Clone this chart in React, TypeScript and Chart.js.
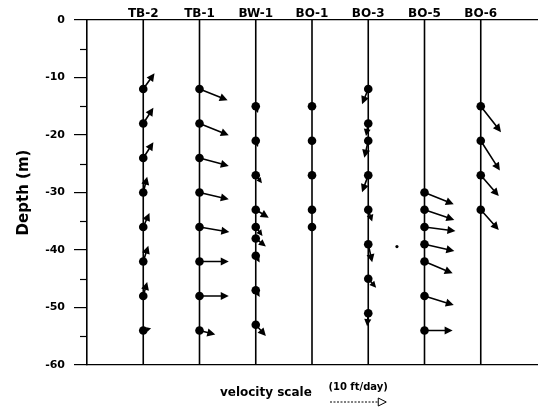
import React, { useEffect, useRef } from "react";
import { Chart, registerables } from "chart.js";
Chart.register(...registerables);

const FONT = "'DejaVu Sans', sans-serif";

// Well names (top axis labels)
const wellNames = ["TB-2", "TB-1", "BW-1", "BO-1", "BO-3", "BO-5", "BO-6"];

// Depth axis
const depthMin = -60;
const depthMax = 0;
const depthStep = 10;
const minorDepthTicks = [-5, -15, -25, -35, -45, -55];

// Measurement depths (m), horizontal (east) and vertical (up) velocity (ft/day)
const tb2Depths = [-12, -18, -24, -30, -36, -42, -48, -54];
const tb2East = [2.0, 1.8, 1.8, 0.7, 1.1, 0.9, 0.7, 1.4];
const tb2Up = [2.8, 2.8, 2.8, 2.8, 2.5, 2.8, 2.5, 0.4];

const tb1Depths = [-12, -18, -24, -30, -36, -42, -48, -54];
const tb1East = [5.0, 5.2, 5.2, 5.2, 5.3, 5.2, 5.2, 2.8];
const tb1Up = [-2.0, -2.1, -1.4, -1.2, -0.9, 0, 0, -0.7];

const bw1Depths = [-15, -21, -27, -33, -36, -38, -41, -47, -53];
const bw1East = [0.4, 0.4, 1.1, 2.3, 1.2, 1.8, 0.7, 0.7, 1.8];
const bw1Up = [-1.2, -1.1, -1.4, -1.4, -1.6, -1.4, -1.2, -1.2, -2.0];

const bo1Depths = [-15, -21, -27, -33, -36];
const bo1East = [0.4, 0.1, 0, 0.5, 0];
const bo1Up = [-0.7, 0, 0, -0.2, 0];

const bo3Depths = [-12, -18, -21, -27, -33, -39, -45, -51];
const bo3East = [-1.1, -0.4, -0.7, -1.1, 0.7, 0.7, 1.4, -0.2];
const bo3Up = [-2.7, -2.2, -3.0, -3.0, -2.1, -3.2, -1.6, -2.3];

const bo5Depths = [-30, -33, -36, -39, -42, -48, -54];
const bo5East = [5.2, 5.3, 5.5, 5.3, 5.0, 5.2, 5.0];
const bo5Up = [-2.1, -1.8, -0.7, -1.2, -2.1, -1.6, 0];

const bo6Depths = [-15, -21, -27, -33];
const bo6East = [3.6, 3.4, 3.2, 3.2];
const bo6Up = [-4.6, -5.3, -3.7, -3.6];

// stray mark in the original figure
const strayX = [5.51];
const strayY = [-39.4];

// velocity scale
const scaleVelocity = 10; // ft/day per x-axis unit (one well spacing)
const scaleLabel = "(10 ft/day)";
const scaleTitle = "velocity scale";

function drawArrow(ctx: CanvasRenderingContext2D, x0: number, y0: number, x1: number, y1: number, filled: boolean, maxHead: number) {
  const dx = x1 - x0;
  const dy = y1 - y0;
  const len = Math.hypot(dx, dy);
  if (len < 1) return;
  const ux = dx / len;
  const uy = dy / len;
  const hl = Math.min(maxHead, len * 0.55);
  const hw = hl * 0.5;
  const bx = x1 - ux * hl;
  const by = y1 - uy * hl;
  ctx.beginPath();
  ctx.moveTo(x0, y0);
  ctx.lineTo(bx, by);
  ctx.stroke();
  ctx.save();
  ctx.setLineDash([]);
  ctx.beginPath();
  ctx.moveTo(x1, y1);
  ctx.lineTo(bx - uy * hw, by + ux * hw);
  ctx.lineTo(bx + uy * hw, by - ux * hw);
  ctx.closePath();
  if (filled) ctx.fill();
  else ctx.stroke();
  ctx.restore();
}

export default function App() {
  const ref = useRef<HTMLCanvasElement>(null);

  useEffect(() => {
    const wells = [
      { depths: tb2Depths, east: tb2East, up: tb2Up },
      { depths: tb1Depths, east: tb1East, up: tb1Up },
      { depths: bw1Depths, east: bw1East, up: bw1Up },
      { depths: bo1Depths, east: bo1East, up: bo1Up },
      { depths: bo3Depths, east: bo3East, up: bo3Up },
      { depths: bo5Depths, east: bo5East, up: bo5Up },
      { depths: bo6Depths, east: bo6East, up: bo6Up },
    ];

    const datasets: any[] = [];
    wells.forEach((_w, i) => {
      datasets.push({
        label: wellNames[i] + " casing",
        data: [
          { x: i + 1, y: depthMax },
          { x: i + 1, y: depthMin },
        ],
        showLine: true,
        borderColor: "#000",
        borderWidth: 1.6,
        pointRadius: 0,
        order: 2,
      });
    });
    wells.forEach((w, i) => {
      datasets.push({
        label: wellNames[i],
        data: w.depths.map((d) => ({ x: i + 1, y: d })),
        showLine: false,
        pointRadius: 4.3,
        pointBackgroundColor: "#000",
        pointBorderColor: "#000",
        pointBorderWidth: 0,
        order: 1,
      });
    });
    datasets.push({
      label: "mark",
      data: strayX.map((x, k) => ({ x, y: strayY[k] })),
      showLine: false,
      pointRadius: 1.6,
      pointBackgroundColor: "#000",
      pointBorderWidth: 0,
      order: 1,
    });

    const vectorPlugin = {
      id: "vectors",
      afterDatasetsDraw(chart: any) {
        const ctx: CanvasRenderingContext2D = chart.ctx;
        const xs = chart.scales.x;
        const ys = chart.scales.y;
        const pxPerVel = (xs.getPixelForValue(1) - xs.getPixelForValue(0)) / scaleVelocity;
        ctx.save();
        ctx.strokeStyle = "#000";
        ctx.fillStyle = "#000";
        ctx.lineWidth = 1.6;
        ctx.lineCap = "round";
        wells.forEach((w, i) => {
          w.depths.forEach((d, k) => {
            const x0 = xs.getPixelForValue(i + 1);
            const y0 = ys.getPixelForValue(d);
            const x1 = x0 + w.east[k] * pxPerVel;
            const y1 = y0 - w.up[k] * pxPerVel;
            drawArrow(ctx, x0, y0, x1, y1, true, 8);
          });
        });
        ctx.restore();
      },
      afterDraw(chart: any) {
        const ctx: CanvasRenderingContext2D = chart.ctx;
        const xs = chart.scales.x;
        const ys = chart.scales.y;
        const area = chart.chartArea;
        const pxPerVel = (xs.getPixelForValue(1) - xs.getPixelForValue(0)) / scaleVelocity;
        ctx.save();
        ctx.strokeStyle = "#000";
        ctx.fillStyle = "#000";
        // minor ticks
        ctx.lineWidth = 1.2;
        minorDepthTicks.forEach((v) => {
          const y = Math.round(ys.getPixelForValue(v)) + 0.5;
          ctx.beginPath();
          ctx.moveTo(area.left - 7, y);
          ctx.lineTo(area.left, y);
          ctx.stroke();
        });
        // velocity scale
        ctx.font = `bold 12px ${FONT}`;
        ctx.textAlign = "center";
        ctx.textBaseline = "middle";
        ctx.fillText(scaleTitle, xs.getPixelForValue(3.18), area.bottom + 28);
        const sx0 = xs.getPixelForValue(4.32);
        const sx1 = sx0 + scaleVelocity * pxPerVel;
        ctx.font = `bold 10px ${FONT}`;
        ctx.fillText(scaleLabel, (sx0 + sx1) / 2, area.bottom + 22);
        ctx.lineWidth = 1;
        ctx.setLineDash([2, 1.5]);
        const sy = area.bottom + 37;
        drawArrow(ctx, sx0, sy, sx1, sy, false, 8);
        ctx.restore();
      },
    };

    const chart = new Chart(ref.current as HTMLCanvasElement, {
      type: "scatter",
      data: { datasets },
      options: {
        animation: false,
        responsive: false,
        devicePixelRatio: 1,
        layout: { padding: { left: 0, top: 0, right: 7, bottom: 0 } },
        plugins: { legend: { display: false }, tooltip: { enabled: false } },
        scales: {
          x: {
            type: "linear",
            position: "bottom",
            min: 0,
            max: wellNames.length + 1,
            afterFit: (s: any) => {
              s.height = 43;
            },
            ticks: { display: false },
            grid: { drawOnChartArea: false, drawTicks: false },
            border: { display: true, color: "#000", width: 1.2 },
          },
          xTop: {
            type: "linear",
            position: "top",
            min: 0,
            max: wellNames.length + 1,
            afterFit: (s: any) => {
              s.height = 20;
            },
            afterBuildTicks: (s: any) => {
              s.ticks = wellNames.map((_n, i) => ({ value: i + 1 }));
            },
            ticks: {
              autoSkip: false,
              maxRotation: 0,
              padding: -1,
              color: "#000",
              font: { family: FONT, weight: "bold", size: 12 },
              callback: (v: any) => wellNames[Number(v) - 1] ?? "",
            },
            grid: { drawOnChartArea: false, drawTicks: false },
            border: { display: true, color: "#000", width: 1.2 },
          },
          y: {
            type: "linear",
            position: "left",
            min: depthMin,
            max: depthMax,
            afterFit: (s: any) => {
              s.width = 87;
            },
            ticks: {
              stepSize: depthStep,
              padding: 9,
              color: "#000",
              font: { family: FONT, weight: "bold", size: 11 },
            },
            grid: { drawOnChartArea: false, drawTicks: true, tickLength: 13, color: "#000", lineWidth: 1.2 },
            border: { display: true, color: "#000", width: 1.6 },
            title: {
              display: true,
              text: "Depth (m)",
              color: "#000",
              font: { family: FONT, weight: "bold", size: 15 },
              padding: { top: 15, bottom: 0 },
            },
          },
        },
      } as any,
      plugins: [vectorPlugin],
    });
    return () => chart.destroy();
  }, []);

  return (
    <div style={{ position: "absolute", left: 0, top: 0, width: 544, height: 408, background: "#fff" }}>
      <canvas ref={ref} width={544} height={408} />
    </div>
  );
}
